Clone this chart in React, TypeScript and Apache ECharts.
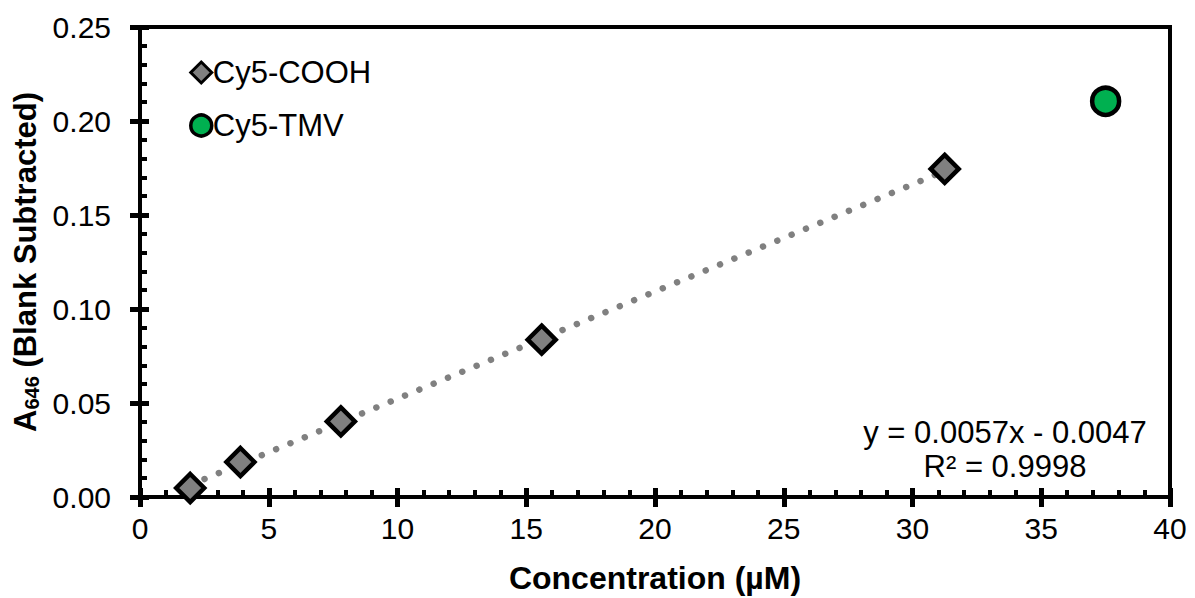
import React, { useEffect, useRef } from "react";
import * as echarts from "echarts";

const cooh: [number, number][] = [
  [1.95, 0.0048],
  [3.9, 0.0186],
  [7.8, 0.0402],
  [15.6, 0.0837],
  [31.25, 0.1745],
];
const tmv: [number, number][] = [[37.5, 0.2105]];
const trend: [number, number][] = [
  [1.95, 0.0064],
  [31.25, 0.1734],
];
const equation = ["y = 0.0057x - 0.0047", "R² = 0.9998"];
const font = "Liberation Sans, Arial, sans-serif";

export default function App() {
  const ref = useRef<HTMLDivElement>(null);
  useEffect(() => {
    const chart = echarts.init(ref.current!, null, { renderer: "svg" });
    const gridPos = { left: 140, top: 27, right: 25, bottom: 101 };
    const baseX = {
      type: "value",
      min: 0,
      max: 40,
      interval: 5,
      splitLine: { show: false },
    };
    const baseY = {
      type: "value",
      min: 0,
      max: 0.25,
      interval: 0.05,
      splitLine: { show: false },
    };
    chart.setOption({
      animation: false,
      textStyle: { fontFamily: font },
      grid: {
        ...gridPos,
        containLabel: false,
        outerBoundsMode: "none",
        show: true,
        borderColor: "#000",
        borderWidth: 4,
        backgroundColor: "transparent",
      },
      legend: {
        orient: "vertical",
        left: 184,
        top: 52,
        itemWidth: 21,
        itemHeight: 21,
        itemGap: 22,
        textStyle: { fontSize: 31, color: "#000", fontFamily: font, padding: [0, 0, 0, -4] },
        data: [
          { name: "Cy5-COOH", itemStyle: { borderWidth: 3 } },
          { name: "Cy5-TMV", itemStyle: { borderWidth: 3.5 } },
        ],
      },
      xAxis: [
        {
          ...baseX,
          name: "Concentration (µM)",
          nameLocation: "middle",
          nameGap: 65,
          nameTextStyle: { fontSize: 32, fontWeight: "bold", color: "#000", fontFamily: font },
          axisLine: { show: true, lineStyle: { color: "#000", width: 4 } },
          axisTick: { show: true, inside: false, length: 10, lineStyle: { color: "#000", width: 5 } },
          axisLabel: { fontSize: 30, color: "#000", margin: 16, fontFamily: font },
        },
        {
          ...baseX,
          position: "bottom",
          axisLine: { show: false },
          axisLabel: { show: false },
          axisTick: { show: true, inside: true, length: 9, lineStyle: { color: "#000", width: 5 } },
          minorTick: { show: true, splitNumber: 5, length: 7, lineStyle: { color: "#000", width: 4 } },
        },
      ],
      yAxis: [
        {
          ...baseY,
          name: "{a|A}{s|646}{a| (Blank Subtracted)}",
          nameLocation: "middle",
          nameGap: 98,
          nameTextStyle: {
            rich: {
              a: { fontSize: 31, fontWeight: "bold", color: "#000", fontFamily: font },
              s: { fontSize: 20, fontWeight: "bold", color: "#000", fontFamily: font, verticalAlign: "bottom", padding: [12, 0, 0, 0] },
            },
          },
          axisLine: { show: true, lineStyle: { color: "#000", width: 4 } },
          axisTick: { show: true, inside: false, length: 10, lineStyle: { color: "#000", width: 5 } },
          axisLabel: {
            fontSize: 30,
            color: "#000",
            margin: 29,
            fontFamily: font,
            formatter: (v: number) => v.toFixed(2),
          },
        },
        {
          ...baseY,
          position: "left",
          axisLine: { show: false },
          axisLabel: { show: false },
          axisTick: { show: true, inside: true, length: 9, lineStyle: { color: "#000", width: 5 } },
          minorTick: { show: true, splitNumber: 5, length: 7, lineStyle: { color: "#000", width: 4 } },
        },
      ],
      series: [
        {
          type: "line",
          name: "trend",
          data: trend,
          symbol: "none",
          lineStyle: { color: "#808080", width: 6.5, type: [0.01, 15.5], cap: "round" },
          z: 1,
        },
        {
          type: "scatter",
          name: "Cy5-COOH",
          data: cooh,
          symbol: "diamond",
          symbolSize: 28,
          itemStyle: { color: "#808080", borderColor: "#000", borderWidth: 4.5, opacity: 1 },
          z: 3,
        },
        {
          type: "scatter",
          name: "Cy5-TMV",
          data: tmv,
          symbol: "circle",
          symbolSize: 27,
          itemStyle: { color: "#00B050", borderColor: "#000", borderWidth: 4.5, opacity: 1 },
          z: 3,
        },
      ],
      graphic: [
        {
          type: "text",
          x: 1005,
          y: 415,
          style: {
            text: equation.join("\n"),
            fontSize: 31,
            fontFamily: font,
            fill: "#000",
            align: "center",
            verticalAlign: "top",
            lineHeight: 34,
          },
        },
      ],
    });
    return () => chart.dispose();
  }, []);
  return (
    <div
      ref={ref}
      style={{ position: "fixed", left: 0, top: 0, width: 1195, height: 598, background: "#fff" }}
    />
  );
}
